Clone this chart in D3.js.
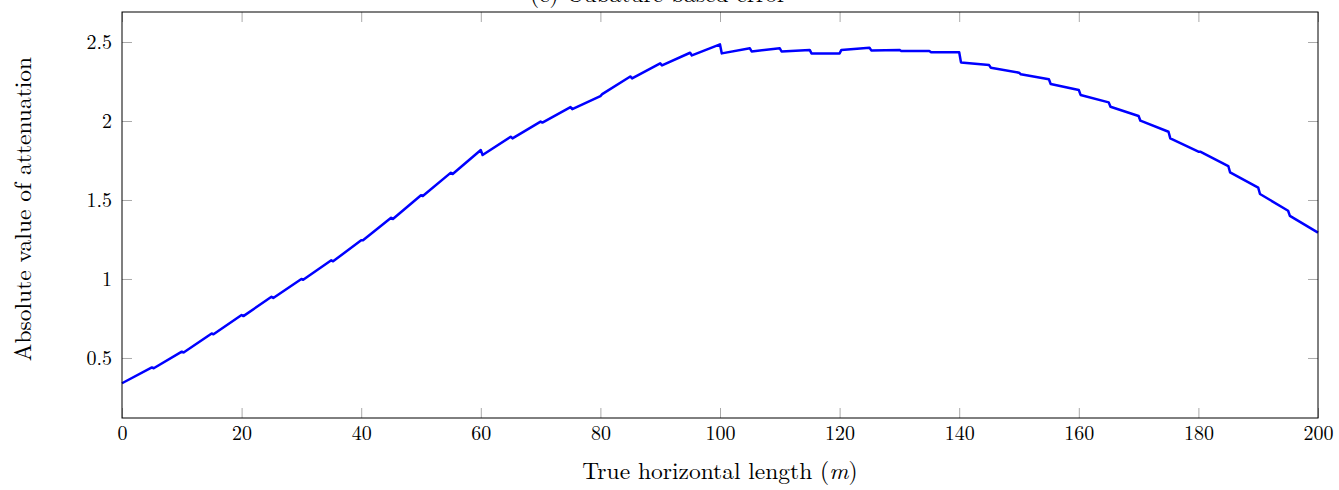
<!DOCTYPE html>
<html lang="en">
	<head>
		<meta charset="utf-8">
		<title>Absolute value of attenuation</title>
		<script src="https://cdnjs.cloudflare.com/ajax/libs/d3/7.8.5/d3.min.js"></script>
		<style type="text/css">
			body { margin: 0; background: #fff; }
			svg text { font-family: "Latin Modern Roman", "CMU Serif", "Liberation Serif", serif; fill: #000; }
			.tick line { stroke: #aaa; }
		</style>
	</head>
	<body>
		<div id="container"></div>
		<script type="text/javascript">

			// each piece covers 5 m; value just after the step and value at the end of the piece
			var segmentStarts = d3.range(0, 200, 5);
			var startValues = [0.34, 0.435, 0.535, 0.65, 0.765, 0.88, 0.995, 1.112, 1.245, 1.38,
				1.525, 1.665, 1.785, 1.89, 1.99, 2.075, 2.17, 2.27, 2.352, 2.415,
				2.428, 2.44, 2.44, 2.428, 2.45, 2.447, 2.443, 2.435, 2.371, 2.337,
				2.296, 2.234, 2.165, 2.09, 2.002, 1.89, 1.806, 1.675, 1.538, 1.399];
			var endValues = [0.44, 0.54, 0.655, 0.772, 0.887, 1.0, 1.118, 1.245, 1.388, 1.53,
				1.673, 1.816, 1.9, 1.996, 2.088, 2.158, 2.282, 2.365, 2.432, 2.485,
				2.46, 2.46, 2.45, 2.428, 2.464, 2.45, 2.443, 2.435, 2.354, 2.306,
				2.264, 2.196, 2.118, 2.032, 1.932, 1.806, 1.715, 1.578, 1.432, 1.293];
			var stepWidth = 0.3;

			var xTicks = [0, 20, 40, 60, 80, 100, 120, 140, 160, 180, 200];
			var yTicks = [0.5, 1, 1.5, 2, 2.5];

			//Width and height
			var width = 1339;
			var height = 490;
			var plotLeft = 122, plotRight = 1318, plotTop = 12, plotBottom = 418;

			var svg = d3.select("div#container")
				.append("svg")
				.attr("width", width)
				.attr("height", height);

			var x = d3.scaleLinear()
				.domain([0, 200])
				.range([plotLeft, plotRight]);

			var y = d3.scaleLinear()
				.domain([0.12, 2.69])
				.range([plotBottom, plotTop]);

			var points = [];
			segmentStarts.forEach(function(s, i) {
				points.push([i ? s + stepWidth : s, startValues[i]]);
				points.push([s + 5, endValues[i]]);
			});

			// title, mostly above the page edge
			svg.append("text")
				.attr("x", 530)
				.attr("y", 1.5)
				.attr("font-size", 23.5)
				.text("(c) Cubature-based error");

			svg.append("g")
				.attr("transform", "translate(0," + plotBottom + ")")
				.call(d3.axisBottom(x).tickValues(xTicks).tickSizeInner(-10).tickSizeOuter(0).tickPadding(8))
				.call(function(g) { g.select(".domain").remove(); })
				.selectAll("text").attr("font-size", 20).attr("font-family", null);

			svg.append("g")
				.attr("transform", "translate(0," + plotTop + ")")
				.call(d3.axisTop(x).tickValues(xTicks).tickSizeInner(-10).tickSizeOuter(0).tickFormat(""))
				.call(function(g) { g.select(".domain").remove(); });

			svg.append("g")
				.attr("transform", "translate(" + plotLeft + ",0)")
				.call(d3.axisLeft(y).tickValues(yTicks).tickSizeInner(-10).tickSizeOuter(0).tickPadding(10)
					.tickFormat(function(d) { return String(d); }))
				.call(function(g) { g.select(".domain").remove(); })
				.selectAll("text").attr("font-size", 20).attr("font-family", null);

			svg.append("g")
				.attr("transform", "translate(" + plotRight + ",0)")
				.call(d3.axisRight(y).tickValues(yTicks).tickSizeInner(-10).tickSizeOuter(0).tickFormat(""))
				.call(function(g) { g.select(".domain").remove(); });

			svg.append("path")
				.datum(points)
				.attr("fill", "none")
				.attr("stroke", "#0000ff")
				.attr("stroke-width", 2.5)
				.attr("stroke-linejoin", "round")
				.attr("d", d3.line()
					.x(function(d) { return x(d[0]); })
					.y(function(d) { return y(d[1]); }));

			svg.append("rect")
				.attr("x", plotLeft)
				.attr("y", plotTop)
				.attr("width", plotRight - plotLeft)
				.attr("height", plotBottom - plotTop)
				.attr("fill", "none")
				.attr("stroke", "#000")
				.attr("stroke-width", 1);

			var xlabel = svg.append("text")
				.attr("x", (plotLeft + plotRight) / 2)
				.attr("y", 479)
				.attr("text-anchor", "middle")
				.attr("font-size", 23.5)
				.text("True horizontal length (");
			xlabel.append("tspan").attr("font-style", "italic").text("m");
			xlabel.append("tspan").text(")");

			svg.append("text")
				.attr("transform", "translate(31,209) rotate(-90)")
				.attr("text-anchor", "middle")
				.attr("font-size", 23.5)
				.text("Absolute value of attenuation");
		</script>
	</body>
</html>
